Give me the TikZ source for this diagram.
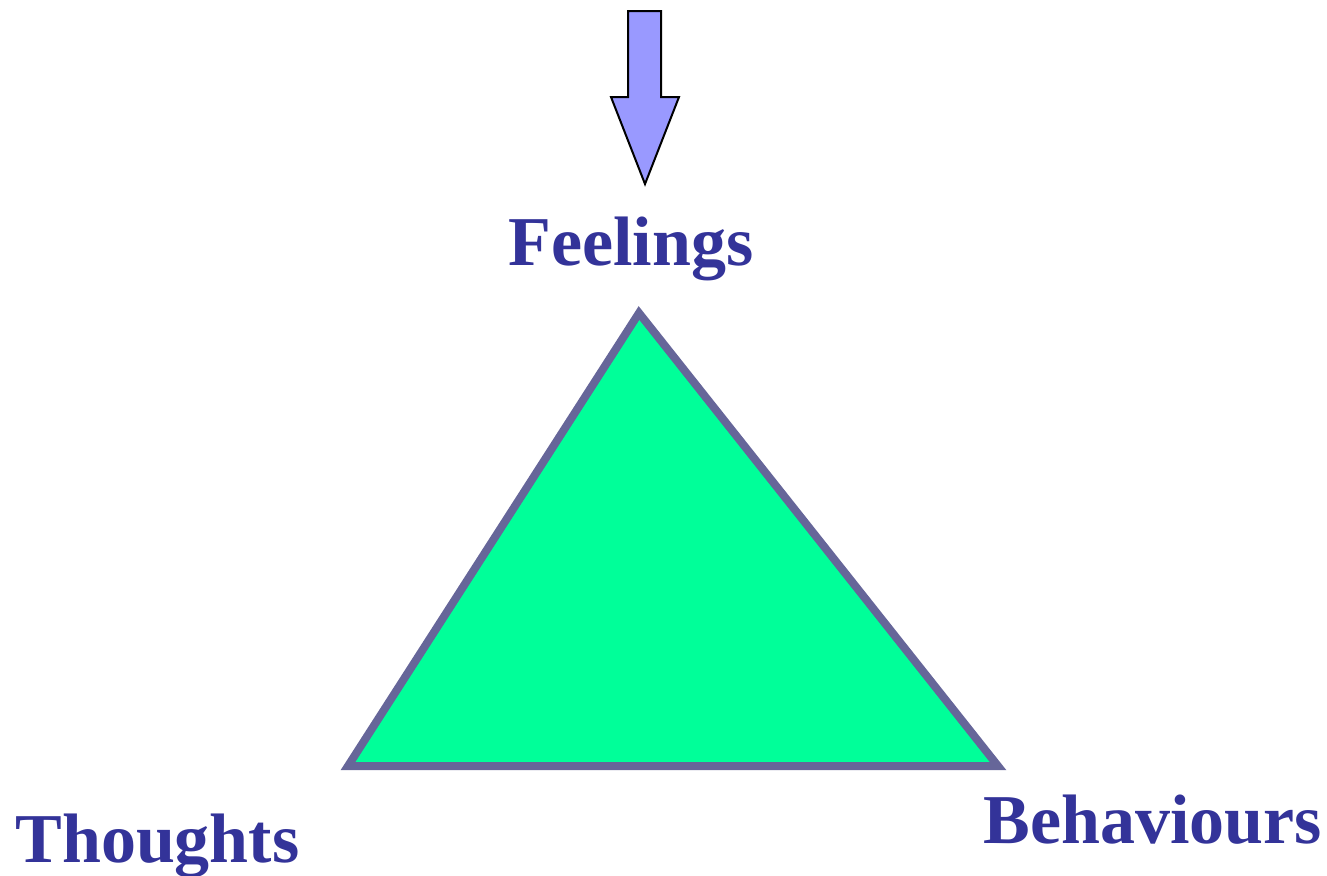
\documentclass[tikz,border=0pt]{standalone}
\usepackage{fontspec}
\setmainfont{Liberation Serif}
\definecolor{labelblue}{HTML}{333399}
\definecolor{edgegrey}{HTML}{666699}
\definecolor{trifill}{HTML}{00FF99}
\definecolor{arrowfill}{HTML}{9999FF}
\begin{document}
\begin{tikzpicture}[x = 0.5pt, y = -0.5pt, line join = miter]
    \tikzstyle{label} = [text = labelblue, font = \fontsize{35}{42}\selectfont\bfseries, inner sep = 0pt, anchor = base west]
    \tikzstyle{corner} = [draw = edgegrey, fill = trifill, line width = 4pt]
    \tikzstyle{bigarrow} = [draw = black, fill = arrowfill, line width = 1pt]

    \useasboundingbox (0,0) rectangle (1327,875);

    \coordinate (top) at (639,313);
    \coordinate (left) at (348,766);
    \coordinate (right) at (998,766);

    \node[label] (feelings) at (508,265) {Feelings};
    \node[label] (thoughts) at (15,862) {Thoughts};
    \node[label] (behaviours) at (983,843) {Behaviours};

    \draw[corner] (top) -- (right) -- (left) -- cycle;

    % arrow pointing down to Feelings
    \draw[bigarrow] (628,11) -- (661,11) -- (661,97) -- (679,97) -- (645,184)
        -- (611,97) -- (628,97) -- cycle;
\end{tikzpicture}
\end{document}
